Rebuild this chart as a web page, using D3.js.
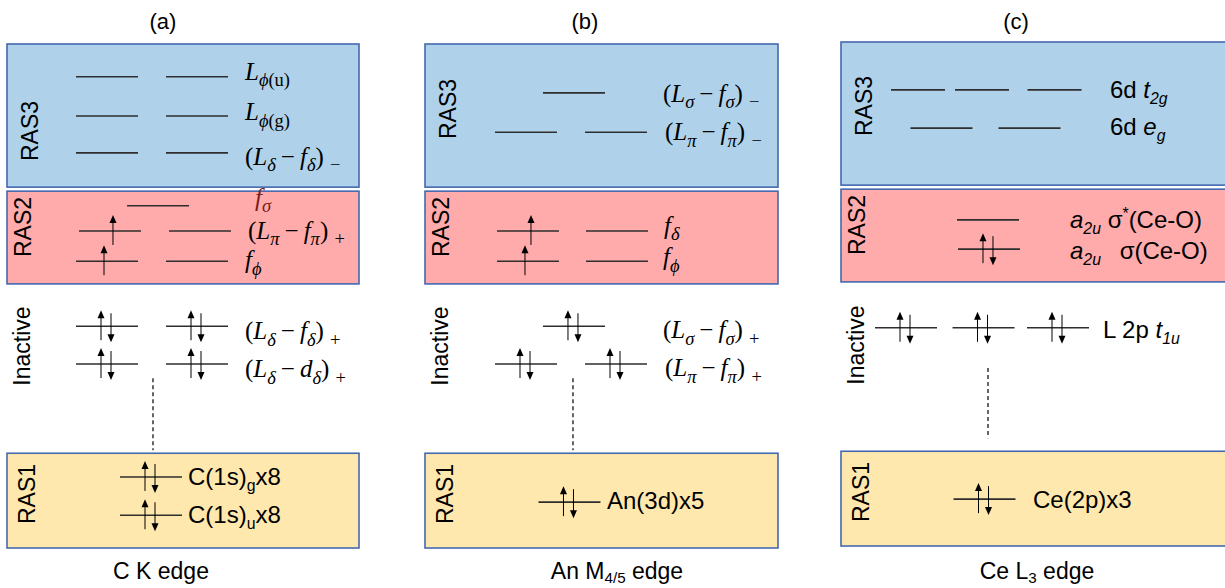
<!DOCTYPE html>
<html><head><meta charset="utf-8">
<script src="https://cdn.jsdelivr.net/npm/d3@7"></script>
<style>body{margin:0;background:#fff} svg{display:block}</style>
</head><body>
<svg id="c" width="1225" height="588"></svg>
<script>
// ---------- data ----------
const panelTitles = ["(a)", "(b)", "(c)"];
const edgeTitles = ["C K edge", "An M<sub>4/5</sub> edge", "Ce L<sub>3</sub> edge"];
const spaceNames = ["RAS3", "RAS2", "Inactive", "RAS1"];
// energy window of each orbital space (arbitrary energy units)
const spaceTop = [10, 7.08, null, 1.88];
const spaceBottom = [7.16, 5.24, null, 0];

const MD = "\u2009\u2212\u2009";
// levels: space, energy, orbital columns, electrons per orbital, label, label column
const levelsA = [
  {space:"RAS3", e:9.35, cols:[0,1], occ:[0,0], kind:"math", label:"<i>L</i><sub><i>ϕ</i>(u)</sub>", lc:1.533, ld:3},
  {space:"RAS3", e:8.57, cols:[0,1], occ:[0,0], kind:"math", label:"<i>L</i><sub><i>ϕ</i>(g)</sub>", lc:1.533, ld:4},
  {space:"RAS3", e:7.84, cols:[0,1], occ:[0,0], kind:"math", label:"(<i>L</i><sub><i>δ</i></sub>"+MD+"<i>f</i><sub><i>δ</i></sub>) <sub>\u2212</sub>", lc:1.533, ld:12},
  {space:"RAS2", e:6.79, cols:[0.567], occ:[0], kind:"math", hl:true, label:"<i>f</i><sub><i>σ</i></sub>", lc:1.644, ld:0},
  {space:"RAS2", e:6.29, cols:[0.033,1.033], occ:[1,0], kind:"math", label:"(<i>L</i><sub><i>π</i></sub>"+MD+"<i>f</i><sub><i>π</i></sub>) <sub>+</sub>", lc:1.567, ld:8},
  {space:"RAS2", e:5.69, cols:[0,1], occ:[1,0], kind:"math", label:"<i>f</i><sub><i>ϕ</i></sub>", lc:1.533, ld:7},
  {space:"Inactive", e:4.40, cols:[0,1], occ:[2,2], kind:"math", label:"(<i>L</i><sub><i>δ</i></sub>"+MD+"<i>f</i><sub><i>δ</i></sub>) <sub>+</sub>", lc:1.533, ld:13},
  {space:"Inactive", e:3.65, cols:[0,1], occ:[2,2], kind:"math", label:"(<i>L</i><sub><i>δ</i></sub>"+MD+"<i>d</i><sub><i>δ</i></sub>) <sub>+</sub>", lc:1.533, ld:13},
  {space:"RAS1", e:1.41, cols:[0.489], occ:[2], kind:"sans", label:"C(1s)<sub>g</sub>x8", lc:0.9, ld:8},
  {space:"RAS1", e:0.65, cols:[0.489], occ:[2], kind:"sans", label:"C(1s)<sub>u</sub>x8", lc:0.9, ld:8}
];
const levelsB = [
  {space:"RAS3", e:9.03, cols:[0.533], occ:[0], kind:"math", label:"(<i>L</i><sub><i>σ</i></sub>"+MD+"<i>f</i><sub><i>σ</i></sub>) <sub>\u2212</sub>", lc:1.522, ld:9},
  {space:"RAS3", e:8.25, cols:[0,1], occ:[0,0], kind:"math", label:"(<i>L</i><sub><i>π</i></sub>"+MD+"<i>f</i><sub><i>π</i></sub>) <sub>\u2212</sub>", lc:1.544, ld:8},
  {space:"RAS2", e:6.29, cols:[0.022,1.011], occ:[1,0], kind:"math", label:"<i>f</i><sub><i>δ</i></sub>", lc:1.533, ld:3},
  {space:"RAS2", e:5.69, cols:[0.022,1.011], occ:[1,0], kind:"math", label:"<i>f</i><sub><i>ϕ</i></sub>", lc:1.522, ld:4},
  {space:"Inactive", e:4.40, cols:[0.533], occ:[2], kind:"math", label:"(<i>L</i><sub><i>σ</i></sub>"+MD+"<i>f</i><sub><i>σ</i></sub>) <sub>+</sub>", lc:1.522, ld:12},
  {space:"Inactive", e:3.65, cols:[0,1], occ:[2,2], kind:"math", label:"(<i>L</i><sub><i>π</i></sub>"+MD+"<i>f</i><sub><i>π</i></sub>) <sub>+</sub>", lc:1.544, ld:12},
  {space:"RAS1", e:0.91, cols:[0.483], occ:[2], kind:"sans", label:"An(3d)x5", lc:0.9, ld:7}
];
const levelsC = [
  {space:"RAS3", e:9.09, cols:[0.158,1,1.954], occ:[0,0,0], kind:"sans", label:"6d <i>t<sub>2g</sub></i>", lc:2.684, ld:8, narrow:true},
  {space:"RAS3", e:8.33, cols:[0.467,1.625], occ:[0,0], kind:"sans", label:"6d <i>e<sub>g</sub></i>", lc:2.684, ld:7},
  {space:"RAS2", e:6.51, cols:[1.079], occ:[0], kind:"sans", label:"<i>a<sub>2u</sub></i> σ<sup>*</sup>(Ce-O)", lc:2.158, ld:8},
  {space:"RAS2", e:5.93, cols:[1.092], occ:[2], kind:"sans", label:"<i>a<sub>2u</sub></i>\u2002 σ(Ce-O)", lc:2.158, ld:10},
  {space:"Inactive", e:4.37, cols:[0,1.02,2], occ:[2,2,2], kind:"sans", label:"L 2p <i>t<sub>1u</sub></i>", lc:2.592, ld:10},
  {space:"RAS1", e:0.97, cols:[1.033], occ:[2], kind:"sans", label:"Ce(2p)x3", lc:1.671, ld:9}
];
const panelLevels = [levelsA, levelsB, levelsC];
// dashed connector (energy from, energy to, column)
const dashFrom = [3.37, 3.37, 3.57];
const dashTo = [1.94, 1.94, 2.18];
const dashCol = [0.511, 0.522, 1.079];

// ---------- layout ----------
const layout = [
  {box:[7,359], xr:[107,197], boxShift:0, lblY:[131,227,346,494], title:163, edge:161},
  {box:[425,778], xr:[526,616], boxShift:0, lblY:[109,227,346,494], title:585, edge:617},
  {box:[841,1240], xr:[906,982], boxShift:-2, lblY:[106,225,345,492], title:1016, edge:1037}
];
const spaceFill = {RAS3:"#afd2ea", RAS2:"#ffabab", RAS1:"#ffe8ad"};
const lblDx = [23, 16, 15, 20];
const SANS = "'Liberation Sans', Arial, sans-serif";
const SERIF = "'Liberation Serif', 'Times New Roman', serif";

const svg = d3.select("#c");
const y = d3.scaleLinear().domain([0, 10]).range([548, 44]);

function rich(textSel, markup, size, subScale, subShift) {
  const re = /<(\/?)(i|sub|sup)>|([^<]+)/g;
  let m, ital = 0, sub = 0, sup = 0, cur = 0;
  while ((m = re.exec(markup)) !== null) {
    if (m[2]) {
      const d = m[1] ? -1 : 1;
      if (m[2] === "i") ital += d; else if (m[2] === "sub") sub += d; else sup += d;
      continue;
    }
    const shift = sub ? size * subShift : (sup ? -size * 0.38 : 0);
    const fs = (sub || sup) ? size * subScale : size;
    textSel.append("tspan")
      .attr("dy", shift - cur)
      .attr("font-size", fs)
      .attr("font-style", ital ? "italic" : "normal")
      .text(m[3]);
    cur = shift;
  }
}

function arrow(g, x, y1, y2) {
  const dir = y2 < y1 ? -1 : 1;
  g.append("line").attr("x1", x).attr("x2", x).attr("y1", y1).attr("y2", y2 - dir * 6)
    .attr("stroke", "#000").attr("stroke-width", 1);
  g.append("path")
    .attr("d", d3.line()([[x - 3.5, y2 - dir * 8], [x + 3.5, y2 - dir * 8], [x, y2]]) + "Z")
    .attr("fill", "#000");
}

layout.forEach((L, p) => {
  const g = svg.append("g");
  const x = d3.scaleLinear().domain([0, 1]).range(L.xr);

  // boxes
  spaceNames.forEach((s, i) => {
    if (spaceTop[i] === null) return;
    g.append("rect")
      .attr("x", L.box[0]).attr("y", y(spaceTop[i]) + L.boxShift)
      .attr("width", L.box[1] - L.box[0])
      .attr("height", y(spaceBottom[i]) - y(spaceTop[i]))
      .attr("fill", spaceFill[s]).attr("stroke", "#4468ae").attr("stroke-width", 1.6);
  });
  // space labels
  spaceNames.forEach((s, i) => {
    const cx = L.box[0] + lblDx[i], cy = L.lblY[i];
    g.append("text").attr("transform", `translate(${cx},${cy}) rotate(-90)`)
      .attr("text-anchor", "middle").attr("dy", "0.36em")
      .attr("font-family", SANS).attr("font-size", 23).attr("fill", "#000").text(s);
  });
  // titles
  g.append("text").attr("x", L.title).attr("y", 29).attr("text-anchor", "middle")
    .attr("font-family", SANS).attr("font-size", 22).text(panelTitles[p]);
  const et = g.append("text").attr("x", L.edge).attr("y", 579).attr("text-anchor", "middle")
    .attr("font-family", SANS).attr("font-size", 23);
  rich(et, edgeTitles[p], 23, 0.66, 0.18);

  // dashed connector
  g.append("line").attr("x1", x(dashCol[p])).attr("x2", x(dashCol[p]))
    .attr("y1", y(dashFrom[p])).attr("y2", y(dashTo[p]))
    .attr("stroke", "#000").attr("stroke-width", 1.2).attr("stroke-dasharray", "4,3");

  // levels
  const levels = panelLevels[p];
  const singles = levels.filter(d => d.occ.includes(1)).sort((a, b) => b.e - a.e);
  levels.forEach(d => {
    const yy = y(d.e);
    const hw = d.narrow ? 27 : 31;
    d.cols.forEach((c, k) => {
      const cx = x(c);
      g.append("line").attr("x1", cx - hw).attr("x2", cx + hw).attr("y1", yy).attr("y2", yy)
        .attr("stroke", "#2e2e2e").attr("stroke-width", 1.6);
      if (d.occ[k] === 2) {
        arrow(g, cx - 6, yy + 14, yy - 16);
        arrow(g, cx + 4, yy - 13, yy + 16);
      } else if (d.occ[k] === 1) {
        const off = singles.indexOf(d) === 0 ? 3 : -3;
        arrow(g, cx + off, yy + 14, yy - 16);
      }
    });
    const isMath = d.kind === "math";
    const t = g.append("text").attr("x", x(d.lc)).attr("y", yy + d.ld)
      .attr("font-family", isMath ? SERIF : SANS)
      .attr("fill", d.hl ? "#7a1c1c" : "#000");
    rich(t, d.label, isMath ? 25 : 24, isMath ? 0.74 : 0.66, 0.26);
  });
});
</script>
</body></html>
